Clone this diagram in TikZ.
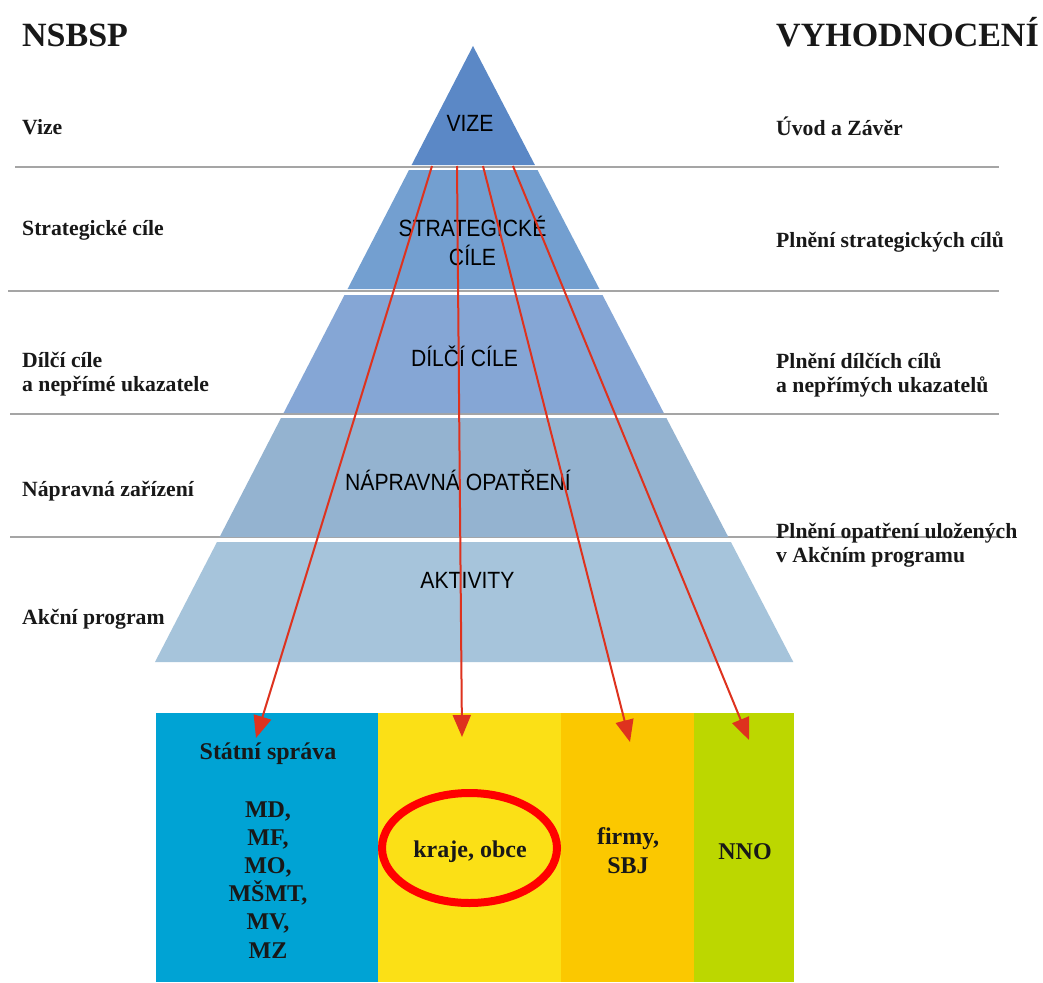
\documentclass[tikz,border=0pt]{standalone}
\usepackage{fontspec}
\setmainfont{Liberation Serif}
\newfontfamily\bandfont[FakeStretch=0.9]{Liberation Sans}
\usetikzlibrary{arrows.meta,shapes.geometric}
\definecolor{bandA}{RGB}{91,136,198}
\definecolor{bandB}{RGB}{115,159,208}
\definecolor{bandC}{RGB}{133,166,213}
\definecolor{bandD}{RGB}{148,179,208}
\definecolor{bandE}{RGB}{166,196,219}
\definecolor{boxblue}{RGB}{0,163,212}
\definecolor{boxyellow}{RGB}{251,224,22}
\definecolor{boxorange}{RGB}{251,200,0}
\definecolor{boxgreen}{RGB}{188,215,0}
\definecolor{txt}{RGB}{24,24,24}
\definecolor{arrred}{RGB}{222,50,30}
\definecolor{ringred}{RGB}{255,0,0}
\definecolor{sepgray}{RGB}{165,165,165}
\begin{document}
\begin{tikzpicture}[x=1pt,y=-1pt,
  head/.style={anchor=base west,inner sep=0pt,text=txt,font=\fontsize{34}{40}\selectfont\bfseries},
  sidelabel/.style={anchor=base west,inner sep=0pt,align=left,text=txt,font=\fontsize{21.7}{24}\selectfont\bfseries},
  bandlabel/.style={anchor=base,inner sep=0pt,align=center,text=black,font=\bandfont\fontsize{23.5}{28.5}\selectfont},
  boxtext/.style={anchor=base,inner sep=0pt,align=center,text=txt,font=\fontsize{24}{28.2}\selectfont\bfseries},
  sepline/.style={draw=sepgray,line width=2pt},
  colbox/.style={anchor=north west,inner sep=0pt,draw=none,minimum height=269pt},
  arr/.style={draw=arrred,line width=2pt,-{Triangle[length=22pt,width=18pt]}}
]
\useasboundingbox (0,0) rectangle (1043,982);
\fill[white] (0,0) rectangle (1043,982);

% separator lines
\draw[sepline] (15,167) -- (999,167);
\draw[sepline] (8,291) -- (999,291);
\draw[sepline] (10,414) -- (999,414);
\draw[sepline] (10,537) -- (999,537);

% pyramid bands
\fill[bandA] (473,46) -- (534.9,165) -- (411.6,165) -- cycle;
\fill[bandB] (409,170) -- (537.5,170) -- (599.4,289) -- (347.6,289) -- cycle;
\fill[bandC] (344.5,295) -- (602.5,295) -- (663.8,413) -- (283.6,413) -- cycle;
\fill[bandD] (281,418) -- (666.4,418) -- (728.3,537) -- (219.6,537) -- cycle;
\fill[bandE] (217,542) -- (730.9,542) -- (793.3,662) -- (155,662) -- cycle;

% band labels
\node[bandlabel] (lvize) at (470,131.7) {VIZE};
\node[bandlabel] (lstrat) at (472.5,265) {STRATEGICKÉ\\CÍLE};
\node[bandlabel] (ldilci) at (464.5,366) {DÍLČÍ CÍLE};
\node[bandlabel] (lnaprav) at (458,490) {NÁPRAVNÁ OPATŘENÍ};
\node[bandlabel] (lakt) at (467.5,588) {AKTIVITY};

% headings
\node[head] (hleft) at (22,47) {NSBSP};
\node[head] (hright) at (776,47) {VYHODNOCENÍ};

% left labels
\node[sidelabel] (l1) at (22,134) {Vize};
\node[sidelabel] (l2) at (22,235) {Strategické cíle};
\node[sidelabel] (l3) at (22,391) {Dílčí cíle\\a nepřímé ukazatele};
\node[sidelabel] (l4) at (22,496) {Nápravná zařízení};
\node[sidelabel] (l5) at (22,624) {Akční program};

% right labels
\node[sidelabel] (r1) at (776,135) {Úvod a Závěr};
\node[sidelabel] (r2) at (776,247) {Plnění strategických cílů};
\node[sidelabel] (r3) at (776,392) {Plnění dílčích cílů\\a nepřímých ukazatelů};
\node[sidelabel] (r4) at (776,562) {Plnění opatření uložených\\v Akčním programu};

% bottom boxes
\node[colbox,fill=boxblue,minimum width=222pt] (b1) at (156,713) {};
\node[colbox,fill=boxyellow,minimum width=183pt] (b2) at (378,713) {};
\node[colbox,fill=boxorange,minimum width=133pt] (b3) at (561,713) {};
\node[colbox,fill=boxgreen,minimum width=100pt] (b4) at (694,713) {};

\node[boxtext] (t1a) at (268,759) {Státní správa};
\node[boxtext] (t1b) at (268,958) {MD,\\MF,\\MO,\\MŠMT,\\MV,\\MZ};
\node[draw=ringred,line width=8pt,ellipse,inner sep=0pt,minimum width=175pt,minimum height=110pt] (ring) at (469.5,848) {};
\node[boxtext] (t2) at (470,857) {kraje, obce};
\node[boxtext] (t3) at (628,873) {firmy,\\SBJ};
\node[boxtext] (t4) at (745,859) {NNO};

% arrows
\coordinate (s1) at (432,166);
\coordinate (s2) at (457,166);
\coordinate (s3) at (483,166);
\coordinate (s4) at (513,166);
\coordinate (e1) at (256,738);
\coordinate (e2) at (462,737);
\coordinate (e3) at (630,742);
\coordinate (e4) at (749,740);
\draw[arr] (s1) -- (e1);
\draw[arr] (s2) -- (e2);
\draw[arr] (s3) -- (e3);
\draw[arr] (s4) -- (e4);
\end{tikzpicture}
\end{document}
